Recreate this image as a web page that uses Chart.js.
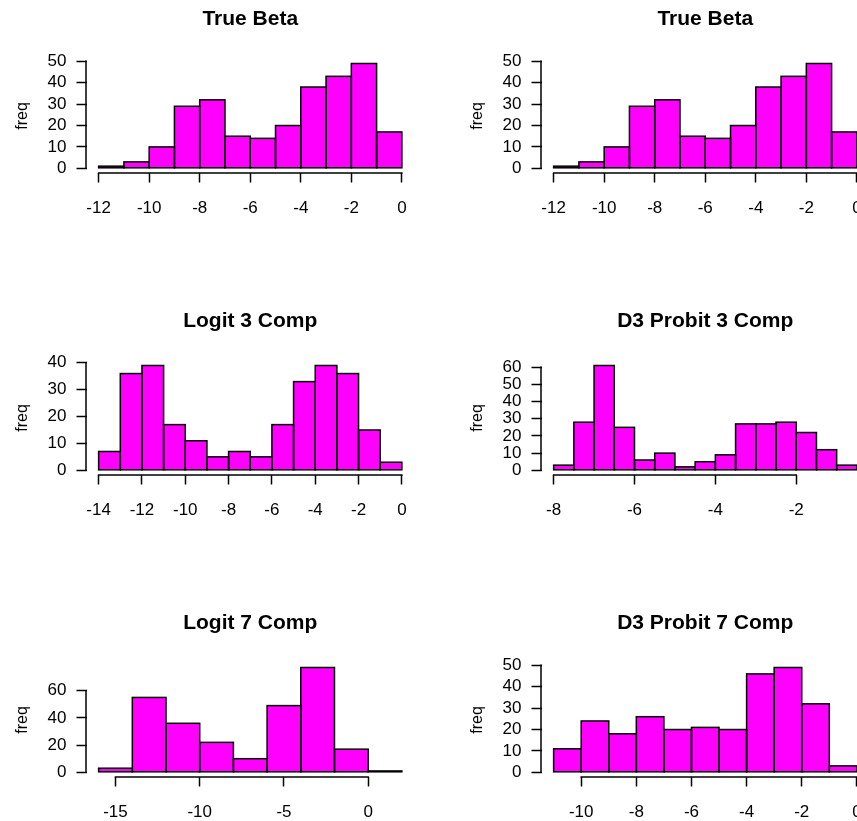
<!DOCTYPE html>
<html>
<head>
<meta charset="utf-8">
<script src="https://cdn.jsdelivr.net/npm/chart.js@4.4.1/dist/chart.umd.min.js"></script>
<style>
html,body{margin:0;padding:0;background:#fff;width:857px;height:821px;overflow:hidden;}
#wrap{position:relative;width:857px;height:821px;overflow:hidden;background:#fff;}
.panel{position:absolute;width:455px;height:302px;}
canvas{display:block;}
</style>
</head>
<body>
<div id="wrap">
  <div class="panel" style="left:0;top:0"><canvas id="c1" width="455" height="302"></canvas></div>
  <div class="panel" style="left:455px;top:0"><canvas id="c2" width="455" height="302"></canvas></div>
  <div class="panel" style="left:0;top:302px"><canvas id="c3" width="455" height="302"></canvas></div>
  <div class="panel" style="left:455px;top:302px"><canvas id="c4" width="455" height="302"></canvas></div>
  <div class="panel" style="left:0;top:604px"><canvas id="c5" width="455" height="302"></canvas></div>
  <div class="panel" style="left:455px;top:604px"><canvas id="c6" width="455" height="302"></canvas></div>
</div>
<script>
// ---------- data ----------
const titles = ["True Beta", "True Beta", "Logit 3 Comp", "D3 Probit 3 Comp", "Logit 7 Comp", "D3 Probit 7 Comp"];
const yLabel = "freq";

const trueBetaBreaks = [-12, -11, -10, -9, -8, -7, -6, -5, -4, -3, -2, -1, 0];
const trueBetaCounts = [1, 3, 10, 29, 32, 15, 14, 20, 38, 43, 49, 17];
const trueBetaTicksX = [-12, -10, -8, -6, -4, -2, 0];
const trueBetaTicksY = [0, 10, 20, 30, 40, 50];

const logit3Breaks = [-14, -13, -12, -11, -10, -9, -8, -7, -6, -5, -4, -3, -2, -1, 0];
const logit3Counts = [7, 36, 39, 17, 11, 5, 7, 5, 17, 33, 39, 36, 15, 3];
const logit3TicksX = [-14, -12, -10, -8, -6, -4, -2, 0];
const logit3TicksY = [0, 10, 20, 30, 40];

const probit3Breaks = [-8, -7.5, -7, -6.5, -6, -5.5, -5, -4.5, -4, -3.5, -3, -2.5, -2, -1.5, -1, -0.5];
const probit3Counts = [3, 28, 61, 25, 6, 10, 2, 5, 9, 27, 27, 28, 22, 12, 3];
const probit3TicksX = [-8, -6, -4, -2];
const probit3TicksY = [0, 10, 20, 30, 40, 50, 60];

const logit7Breaks = [-16, -14, -12, -10, -8, -6, -4, -2, 0, 2];
const logit7Counts = [3, 55, 36, 22, 10, 49, 77, 17, 1];
const logit7TicksX = [-15, -10, -5, 0];
const logit7TicksY = [0, 20, 40, 60];

const probit7Breaks = [-11, -10, -9, -8, -7, -6, -5, -4, -3, -2, -1, 0];
const probit7Counts = [11, 24, 18, 26, 20, 21, 20, 46, 49, 32, 3];
const probit7TicksX = [-10, -8, -6, -4, -2, 0];
const probit7TicksY = [0, 10, 20, 30, 40, 50];

// ---------- layout / style ----------
const PLOT = { W: 455, H: 302, left: 86.5, right: 414, top: 59.3, bottom: 172.5 };
const FAMILY = "'Liberation Sans', Arial, Helvetica, sans-serif";
const BAR_FILL = '#FF00FF';
const AXIS_W = 1.5;
const BAR_EDGE_W = 1.5;

// R-style axis lines: from first to last tick only
const rAxes = {
  id: 'rAxes',
  afterDraw(chart) {
    const ctx = chart.ctx, x = chart.scales.x, y = chart.scales.y;
    ctx.save();
    ctx.strokeStyle = '#000';
    ctx.lineWidth = AXIS_W;
    ctx.lineCap = 'square';
    const xs = x.ticks.map(t => x.getPixelForValue(t.value));
    const yA = x.top + 0.5;
    ctx.beginPath(); ctx.moveTo(xs[0], yA); ctx.lineTo(xs[xs.length - 1], yA); ctx.stroke();
    const ys = y.ticks.map(t => y.getPixelForValue(t.value));
    const xA = y.right - 0.5;
    ctx.beginPath(); ctx.moveTo(xA, ys[0]); ctx.lineTo(xA, ys[ys.length - 1]); ctx.stroke();
    ctx.restore();
  }
};

// R-style rect outlines (stroke centred on each bar's edges, as rect() does)
const rBarEdges = {
  id: 'rBarEdges',
  afterDatasetsDraw(chart) {
    const ctx = chart.ctx;
    ctx.save();
    ctx.strokeStyle = '#000';
    ctx.lineWidth = BAR_EDGE_W;
    ctx.lineJoin = 'miter';
    chart.getDatasetMeta(0).data.forEach(bar => {
      const p = bar.getProps(['x', 'y', 'base', 'width'], true);
      const left = p.x - p.width / 2;
      const top = Math.min(p.y, p.base);
      const h = Math.abs(p.base - p.y);
      ctx.strokeRect(left, top, p.width, h);
    });
    ctx.restore();
  }
};

function makeHist(id, title, breaks, counts, xTicks, yTicks) {
  const xr = breaks[breaks.length - 1] - breaks[0];
  const xMin = breaks[0] - 0.04 * xr, xMax = breaks[breaks.length - 1] + 0.04 * xr;
  const yTop = Math.max(...counts);
  const yMin = -0.04 * yTop, yMax = yTop * 1.04;
  const titleFont = { family: FAMILY, size: 21, weight: 'bold', lineHeight: 1 };
  new Chart(document.getElementById(id), {
    type: 'bar',
    data: {
      datasets: [{
        data: counts.map((c, i) => ({ x: (breaks[i] + breaks[i + 1]) / 2, y: c })),
        backgroundColor: BAR_FILL,
        borderWidth: 0,
        barPercentage: 1,
        categoryPercentage: 1,
        inflateAmount: 0
      }]
    },
    options: {
      responsive: false,
      animation: false,
      devicePixelRatio: 1,
      layout: { padding: { left: 0, top: 0, right: PLOT.W - PLOT.right, bottom: PLOT.H - PLOT.bottom - 50 } },
      plugins: {
        legend: { display: false },
        tooltip: { enabled: false },
        title: {
          display: true, text: title, fullSize: false, color: '#000',
          font: titleFont,
          padding: { top: 8.8, bottom: PLOT.top - 8.8 - 21 }
        }
      },
      scales: {
        x: {
          type: 'linear', min: xMin, max: xMax, bounds: 'data', offset: false,
          grid: { display: true, drawOnChartArea: false, drawTicks: true, tickLength: 10, tickColor: '#000', tickWidth: AXIS_W, offset: false },
          border: { display: false },
          ticks: { autoSkip: false, maxRotation: 0, minRotation: 0, includeBounds: false, padding: 16, color: '#000',
                   font: { family: FAMILY, size: 17 }, callback: v => String(v) },
          afterBuildTicks: ax => { ax.ticks = xTicks.map(v => ({ value: v })); },
          afterFit: ax => { ax.height = 50; }
        },
        y: {
          type: 'linear', min: yMin, max: yMax, bounds: 'data',
          grid: { display: true, drawOnChartArea: false, drawTicks: true, tickLength: 10, tickColor: '#000', tickWidth: AXIS_W },
          border: { display: false },
          ticks: { autoSkip: false, includeBounds: false, padding: 10, color: '#000',
                   font: { family: FAMILY, size: 17 }, callback: v => String(v) },
          title: { display: true, text: yLabel, color: '#000', font: { family: FAMILY, size: 16 }, padding: { top: 13, bottom: 0 } },
          afterBuildTicks: ax => { ax.ticks = yTicks.map(v => ({ value: v })); },
          afterFit: ax => { ax.width = PLOT.left; }
        }
      }
    },
    plugins: [rBarEdges, rAxes]
  });
}

makeHist('c1', titles[0], trueBetaBreaks, trueBetaCounts, trueBetaTicksX, trueBetaTicksY);
makeHist('c2', titles[1], trueBetaBreaks, trueBetaCounts, trueBetaTicksX, trueBetaTicksY);
makeHist('c3', titles[2], logit3Breaks, logit3Counts, logit3TicksX, logit3TicksY);
makeHist('c4', titles[3], probit3Breaks, probit3Counts, probit3TicksX, probit3TicksY);
makeHist('c5', titles[4], logit7Breaks, logit7Counts, logit7TicksX, logit7TicksY);
makeHist('c6', titles[5], probit7Breaks, probit7Counts, probit7TicksX, probit7TicksY);
</script>
</body>
</html>
